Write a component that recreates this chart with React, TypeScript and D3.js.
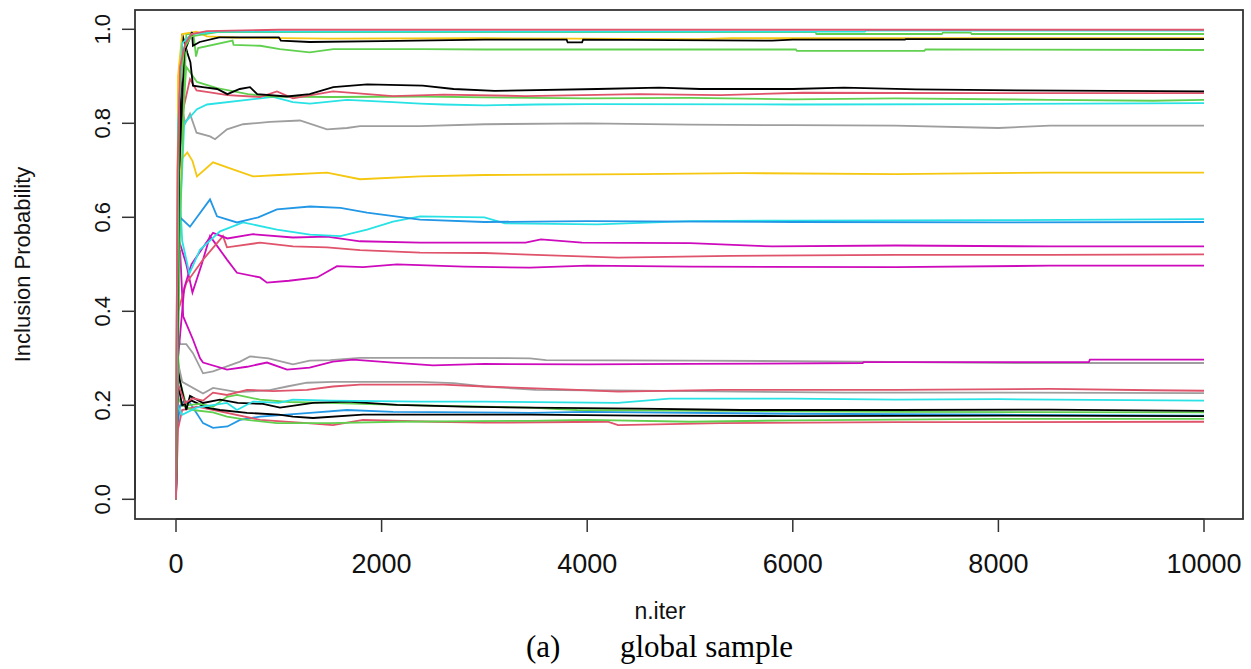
import React from "react";
import * as d3 from "d3";

const BLACK = "#000000";
const RED = "#DF536B";
const GREEN = "#61D04F";
const BLUE = "#2297E6";
const CYAN = "#28E2E5";
const MAGENTA = "#CD0BBC";
const YELLOW = "#F5C710";
const GRAY = "#9E9E9E";

const xTicks = [0, 2000, 4000, 6000, 8000, 10000];
const yTicks = [0, 0.2, 0.4, 0.6, 0.8, 1.0];

type Pt = [number, number];

const cyanTop: Pt[] = [[0,0],[20,0.8],[60,0.97],[150,0.99],[400,0.995],[6700,0.995],[6710,0.997],[10000,0.997]];
const greenTop: Pt[] = [[0,0],[30,0.85],[80,0.96],[150,0.985],[400,0.994],[6220,0.994],[6230,0.99],[7450,0.99],[7460,0.993],[7730,0.993],[7740,0.99],[10000,0.99]];
const yellowTop: Pt[] = [[0,0],[20,0.9],[60,0.99],[200,0.995],[300,0.985],[600,0.982],[1500,0.98],[3000,0.981],[5100,0.979],[5400,0.981],[10000,0.981]];
const blackTop: Pt[] = [[0,0],[30,0.7],[80,0.95],[155,0.994],[165,0.965],[230,0.973],[420,0.983],[1000,0.983],[1020,0.976],[1300,0.973],[2000,0.975],[3000,0.978],[3800,0.978],[3810,0.972],[3950,0.972],[3960,0.978],[5800,0.976],[6000,0.978],[7090,0.978],[7100,0.979],[10000,0.979]];
const greenHigh: Pt[] = [[0,0],[40,0.6],[100,0.99],[170,0.99],[195,0.942],[215,0.96],[550,0.976],[560,0.967],[820,0.965],[1010,0.958],[1300,0.951],[1530,0.958],[2400,0.958],[3000,0.957],[6030,0.957],[6040,0.954],[7280,0.954],[7290,0.957],[10000,0.956]];
const blackMid: Pt[] = [[0,0],[20,0.6],[60,0.99],[110,0.95],[140,0.93],[165,0.88],[260,0.877],[400,0.873],[500,0.862],[620,0.873],[720,0.877],[790,0.862],[1080,0.857],[1300,0.862],[1530,0.877],[1860,0.883],[2400,0.88],[2700,0.873],[3100,0.869],[4100,0.873],[4700,0.876],[5100,0.873],[6000,0.873],[6500,0.876],[7200,0.872],[8200,0.87],[10000,0.868]];
const redMid: Pt[] = [[0,0],[15,0.5],[40,0.8],[136,0.894],[200,0.87],[330,0.866],[500,0.86],[817,0.856],[982,0.868],[1138,0.853],[1527,0.868],[2111,0.858],[2600,0.861],[3400,0.858],[4500,0.862],[5300,0.86],[6100,0.865],[8000,0.864],[10000,0.864]];
const greenMid: Pt[] = [[0,0],[30,0.7],[100,0.92],[204,0.888],[400,0.875],[700,0.862],[914,0.857],[1500,0.856],[2400,0.857],[3000,0.855],[4000,0.853],[5000,0.854],[6000,0.851],[7000,0.853],[8500,0.85],[9500,0.848],[10000,0.85]];
const cyanMid: Pt[] = [[0,0],[20,0.5],[80,0.8],[204,0.83],[302,0.84],[691,0.85],[944,0.856],[1138,0.845],[1304,0.842],[1663,0.85],[2111,0.845],[2374,0.842],[2600,0.84],[3000,0.838],[3500,0.84],[4000,0.841],[6000,0.84],[8000,0.841],[10000,0.843]];
const grayHigh: Pt[] = [[0,0],[10,0.5],[40,0.85],[90,0.8],[136,0.82],[200,0.78],[331,0.772],[380,0.766],[496,0.787],[652,0.798],[914,0.803],[1206,0.806],[1469,0.787],[1663,0.79],[1790,0.794],[2374,0.794],[3000,0.798],[4000,0.8],[5000,0.797],[6000,0.796],[7000,0.795],[8000,0.79],[8500,0.795],[10000,0.795]];
const yellowMid: Pt[] = [[0,0],[10,0.5],[39,0.72],[110,0.738],[160,0.72],[204,0.687],[360,0.717],[554,0.702],[749,0.687],[1000,0.69],[1469,0.695],[1790,0.681],[2374,0.687],[3000,0.69],[4500,0.692],[5500,0.694],[7000,0.692],[8500,0.695],[10000,0.695]];
const blueMid: Pt[] = [[0,0],[10,0.4],[39,0.6],[136,0.58],[331,0.638],[399,0.602],[593,0.589],[800,0.6],[982,0.617],[1304,0.623],[1600,0.62],[1858,0.61],[2374,0.595],[3000,0.59],[4000,0.592],[6000,0.59],[8000,0.589],[10000,0.59]];
const cyanMid2: Pt[] = [[0,0],[20,0.73],[60,0.55],[130,0.48],[233,0.531],[428,0.57],[652,0.589],[982,0.574],[1304,0.563],[1600,0.56],[1858,0.574],[2111,0.591],[2374,0.602],[3000,0.6],[3200,0.587],[4100,0.585],[5000,0.592],[6000,0.593],[8000,0.594],[10000,0.596]];
const magentaMid: Pt[] = [[0,0],[20,0.3],[80,0.45],[150,0.5],[360,0.567],[500,0.555],[749,0.564],[1138,0.557],[1469,0.559],[1790,0.549],[2374,0.546],[3400,0.546],[3550,0.553],[3950,0.546],[5000,0.545],[5800,0.538],[7000,0.54],[8500,0.538],[10000,0.538]];
const redMid2: Pt[] = [[0,0],[20,0.4],[100,0.46],[263,0.51],[457,0.56],[496,0.536],[817,0.546],[1138,0.538],[1469,0.536],[1790,0.53],[2374,0.525],[3000,0.524],[3500,0.52],[4300,0.514],[5400,0.518],[7000,0.52],[8500,0.52],[10000,0.521]];
const magentaLow: Pt[] = [[0,0],[30,0.55],[100,0.5],[160,0.44],[250,0.5],[331,0.56],[496,0.51],[593,0.482],[817,0.472],[885,0.461],[1100,0.465],[1372,0.472],[1566,0.496],[1819,0.494],[2150,0.5],[2800,0.495],[3444,0.493],[4000,0.497],[5000,0.495],[7000,0.494],[8500,0.497],[10000,0.497]];
const magentaLow2: Pt[] = [[0,0],[10,0.5],[40,0.53],[70,0.389],[165,0.34],[234,0.3],[263,0.291],[496,0.276],[691,0.282],[885,0.291],[1080,0.276],[1300,0.28],[1527,0.293],[1722,0.297],[2111,0.291],[2500,0.285],[3000,0.288],[4000,0.287],[5000,0.288],[6680,0.29],[6690,0.292],[8880,0.292],[8890,0.297],[10000,0.297]];
const grayLow: Pt[] = [[0,0],[10,0.35],[40,0.33],[100,0.33],[165,0.311],[263,0.268],[360,0.272],[623,0.293],[720,0.304],[900,0.3],[1138,0.287],[1300,0.295],[1500,0.296],[1790,0.301],[2374,0.301],[3444,0.3],[3600,0.296],[5000,0.295],[6000,0.294],[8200,0.29],[10000,0.29]];
const redLow: Pt[] = [[0,0],[10,0.25],[88,0.205],[165,0.215],[263,0.21],[360,0.227],[496,0.222],[691,0.233],[944,0.23],[1274,0.233],[1527,0.24],[1790,0.244],[2374,0.244],[2600,0.244],[3000,0.24],[3900,0.233],[4300,0.229],[5300,0.233],[7000,0.233],[8500,0.235],[9500,0.232],[10000,0.231]];
const grayLow2: Pt[] = [[0,0],[10,0.3],[60,0.25],[263,0.225],[360,0.237],[600,0.228],[900,0.232],[1080,0.24],[1274,0.248],[1527,0.25],[2374,0.25],[2700,0.247],[3000,0.24],[3500,0.233],[4000,0.232],[5000,0.23],[6500,0.227],[8000,0.227],[10000,0.226]];
const cyanLow: Pt[] = [[0,0],[10,0.2],[60,0.18],[200,0.195],[496,0.205],[593,0.19],[749,0.208],[1000,0.205],[1138,0.212],[1500,0.21],[2374,0.208],[3000,0.208],[4300,0.205],[4800,0.214],[6000,0.214],[7000,0.212],[8000,0.213],[10000,0.21]];
const blackLow1: Pt[] = [[0,0],[20,0.28],[40,0.25],[100,0.19],[136,0.22],[263,0.205],[428,0.212],[600,0.205],[846,0.203],[1012,0.195],[1333,0.205],[1663,0.208],[2150,0.201],[2792,0.197],[3444,0.195],[4500,0.193],[5500,0.19],[7000,0.19],[8500,0.191],[10000,0.188]];
const blackLow2: Pt[] = [[0,0],[15,0.25],[60,0.2],[150,0.21],[300,0.195],[428,0.19],[691,0.184],[1000,0.18],[1138,0.176],[1333,0.173],[1819,0.18],[2500,0.18],[3444,0.18],[4500,0.178],[6000,0.177],[8000,0.178],[10000,0.177]];
const greenUp: Pt[] = [[0,0],[10,0.333],[40,0.25],[100,0.2],[233,0.203],[360,0.197],[496,0.218],[593,0.222],[817,0.212],[1100,0.207],[1469,0.205],[2150,0.201],[3444,0.195],[3900,0.19],[5500,0.188],[7000,0.186],[10000,0.185]];
const greenLow: Pt[] = [[0,0],[10,0.22],[60,0.2],[165,0.19],[360,0.185],[496,0.176],[691,0.169],[982,0.162],[1500,0.162],[2150,0.165],[3444,0.167],[4000,0.169],[5000,0.165],[6000,0.168],[8000,0.171],[10000,0.171]];
const redLow2: Pt[] = [[0,0],[20,0.15],[60,0.19],[204,0.197],[496,0.184],[817,0.169],[1274,0.162],[1527,0.158],[1819,0.169],[2500,0.165],[3000,0.163],[4200,0.165],[4300,0.158],[5300,0.162],[7000,0.164],[10000,0.165]];
const blueLow: Pt[] = [[0,0],[10,0.15],[40,0.2],[80,0.21],[136,0.205],[263,0.162],[360,0.152],[500,0.155],[623,0.169],[817,0.176],[1304,0.184],[1663,0.19],[2111,0.186],[3444,0.184],[4000,0.186],[6000,0.182],[8000,0.18],[10000,0.178]];
const redTop: Pt[] = [[0,0],[5,0.3],[15,0.7],[40,0.92],[90,0.97],[150,0.99],[300,0.996],[1000,0.999],[10000,0.999]];

const seriesList: { data: Pt[]; color: string }[] = [
  { data: blueLow, color: BLUE },
  { data: redLow2, color: RED },
  { data: greenLow, color: GREEN },
  { data: blackLow2, color: BLACK },
  { data: greenUp, color: GREEN },
  { data: blackLow1, color: BLACK },
  { data: cyanLow, color: CYAN },
  { data: grayLow2, color: GRAY },
  { data: redLow, color: RED },
  { data: grayLow, color: GRAY },
  { data: magentaLow2, color: MAGENTA },
  { data: magentaLow, color: MAGENTA },
  { data: redMid2, color: RED },
  { data: magentaMid, color: MAGENTA },
  { data: cyanMid2, color: CYAN },
  { data: blueMid, color: BLUE },
  { data: yellowMid, color: YELLOW },
  { data: grayHigh, color: GRAY },
  { data: cyanMid, color: CYAN },
  { data: greenMid, color: GREEN },
  { data: redMid, color: RED },
  { data: blackMid, color: BLACK },
  { data: greenHigh, color: GREEN },
  { data: yellowTop, color: YELLOW },
  { data: blackTop, color: BLACK },
  { data: greenTop, color: GREEN },
  { data: cyanTop, color: CYAN },
  { data: redTop, color: RED },
];

export default function App() {
  const W = 1251, H = 669;
  const box = { left: 135, right: 1243, top: 10, bottom: 519 };
  const x = d3.scaleLinear().domain([0, 10000]).range([176, 1204]);
  const y = d3.scaleLinear().domain([0, 1]).range([499.3, 29.3]);
  const line = d3.line<Pt>().x(d => x(d[0])).y(d => y(d[1])).curve(d3.curveLinear);
  const sans = "'Liberation Sans', Arial, sans-serif";
  return (
    <svg width={W} height={H} style={{ position: "absolute", left: 0, top: 0, background: "#fff" }}>
      <rect x={0} y={0} width={W} height={H} fill="#fff" />
      <g>
        {seriesList.map((s, i) => (
          <path key={i} d={line(s.data) || ""} fill="none" stroke={s.color} strokeWidth={1.8} strokeLinejoin="miter" />
        ))}
      </g>
      <rect x={box.left} y={box.top} width={box.right - box.left} height={box.bottom - box.top} fill="none" stroke="#333" strokeWidth={1.8} />
      {/* x axis */}
      <line x1={x(0)} x2={x(10000)} y1={box.bottom} y2={box.bottom} stroke="#333" strokeWidth={1.8} />
      {xTicks.map(t => (
        <g key={t}>
          <line x1={x(t)} x2={x(t)} y1={box.bottom} y2={box.bottom + 13} stroke="#333" strokeWidth={1.5} />
          <text x={x(t)} y={573} textAnchor="middle" fontFamily={sans} fontSize={27} fill="#111">{t}</text>
        </g>
      ))}
      {/* y axis */}
      <line x1={box.left} x2={box.left} y1={y(0)} y2={y(1)} stroke="#333" strokeWidth={1.8} />
      {yTicks.map(t => (
        <g key={t}>
          <line x1={box.left - 13} x2={box.left} y1={y(t)} y2={y(t)} stroke="#333" strokeWidth={1.5} />
          <text transform={`translate(110,${y(t)}) rotate(-90)`} textAnchor="middle" fontFamily={sans} fontSize={22} fill="#111">{t.toFixed(1)}</text>
        </g>
      ))}
      <text transform={`translate(30,${(box.top + box.bottom) / 2}) rotate(-90)`} textAnchor="middle" fontFamily={sans} fontSize={22} fill="#111">Inclusion Probability</text>
      <text x={660} y={619} textAnchor="middle" fontFamily={sans} fontSize={23} fill="#111">n.iter</text>
      <text x={526} y={657} fontFamily="'Liberation Serif', 'Times New Roman', serif" fontSize={31} fill="#000">(a)</text>
      <text x={620} y={657} fontFamily="'Liberation Serif', 'Times New Roman', serif" fontSize={31} fill="#000">global sample</text>
    </svg>
  );
}
